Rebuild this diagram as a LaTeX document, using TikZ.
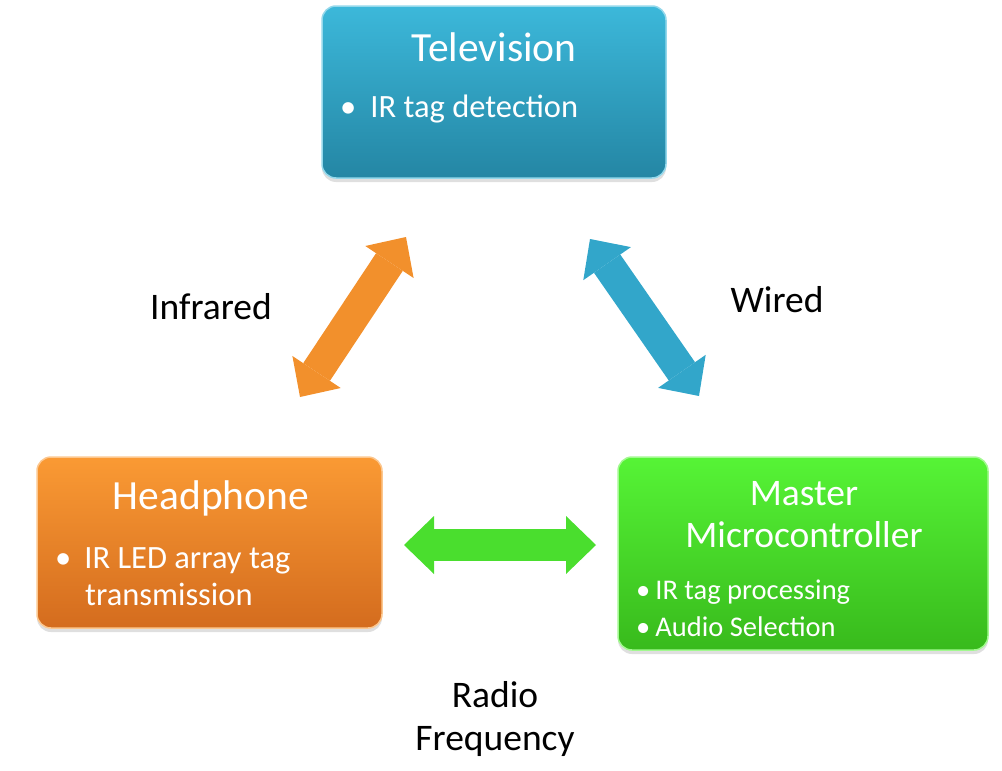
\documentclass[tikz,border=0pt]{standalone}
\usepackage{fontspec}
\setmainfont{Carlito}
\usetikzlibrary{arrows.meta,shadows}
\definecolor{tvtop}{RGB}{60,184,218}
\definecolor{tvbot}{RGB}{36,134,164}
\definecolor{hptop}{RGB}{250,154,52}
\definecolor{hpbot}{RGB}{212,108,30}
\definecolor{mctop}{RGB}{86,244,54}
\definecolor{mcbot}{RGB}{56,186,28}
\definecolor{arrOr}{RGB}{242,144,44}
\definecolor{arrBl}{RGB}{50,166,202}
\definecolor{arrGr}{RGB}{74,222,46}
\begin{document}
\begin{tikzpicture}[x=1pt,y=-1pt,
  box/.style={rounded corners=14pt, line width=1.5pt, inner sep=0pt,
    drop shadow={opacity=0.25, shadow xshift=0pt, shadow yshift=-4pt}},
  title/.style={text=white, font=\fontsize{41.5}{48}\selectfont, inner sep=0pt},
  item/.style={text=white, font=\fontsize{32.5}{37}\selectfont, inner sep=0pt, anchor=base west},
  smallitem/.style={text=white, font=\fontsize{28.5}{34}\selectfont, inner sep=0pt, anchor=base west},
  lbl/.style={text=black, font=\fontsize{37.5}{44}\selectfont, inner sep=0pt},
  dblarr/.style={line width=32pt,
    {Triangle[length=30pt,width=58pt,line width=0pt]}-{Triangle[length=30pt,width=58pt,line width=0pt]}}
]
\useasboundingbox (0,0) rectangle (1002,771);

% boxes
\node[box, minimum width=344pt, minimum height=172pt, top color=tvtop, bottom color=tvbot,
  draw=tvtop!55!white] (tv) at (494,92) {};
\node[box, minimum width=345pt, minimum height=171pt, top color=hptop, bottom color=hpbot,
  draw=hptop!55!white] (hp) at (209.5,542.5) {};
\node[box, minimum width=370pt, minimum height=193pt, top color=mctop, bottom color=mcbot,
  draw=mctop!55!white] (mc) at (803,553.5) {};

% texts
\node[title] (tvt) at (494,47) {Television};
\node[item] (tvb) at (340,117) {\textbullet\hspace{14pt}IR tag detection};

\node[title] (hpt) at (211,498) {Headphone};
\node[item] (hpb1) at (55,568) {\textbullet\hspace{13pt}IR LED array tag};
\node[item] (hpb2) at (85,605) {transmission};

\node[title, font=\fontsize{37.5}{44}\selectfont] (mct1) at (804,494) {Master};
\node[title, font=\fontsize{37.5}{44}\selectfont] (mct2) at (804,535) {Microcontroller};
\node[smallitem] (mcb1) at (636,599) {\textbullet\hspace{5pt}IR tag processing};
\node[smallitem] (mcb2) at (636,636) {\textbullet\hspace{5pt}Audio Selection};

% labels
\node[lbl] (l1) at (211,307) {Infrared};
\node[lbl] (l2) at (777,300) {Wired};
\node[lbl] (l3) at (495,695) {Radio};
\node[lbl] (l4) at (495,741) {Frequency};

% arrow end points
\coordinate (oa) at (300,397);
\coordinate (ob) at (406,237);
\coordinate (ba) at (590,239);
\coordinate (bb) at (699,396);
\coordinate (ga) at (404,545);
\coordinate (gb) at (596,545);

\draw[dblarr, draw=arrOr, fill=arrOr] (oa) -- (ob);
\draw[dblarr, draw=arrBl, fill=arrBl] (ba) -- (bb);
\draw[dblarr, draw=arrGr, fill=arrGr] (ga) -- (gb);
\end{tikzpicture}
\end{document}
